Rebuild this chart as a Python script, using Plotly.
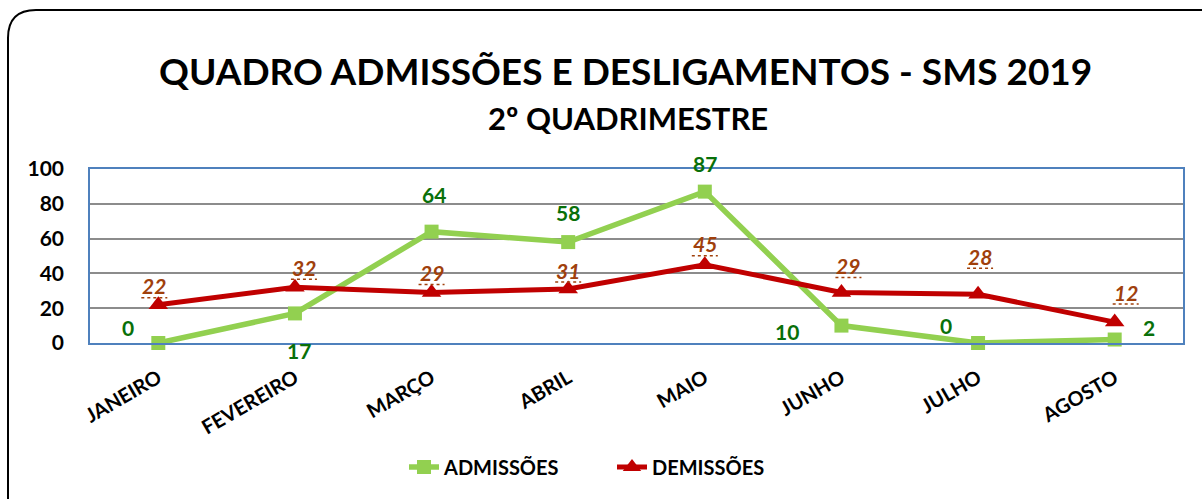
import plotly.graph_objects as go

months = ["JANEIRO", "FEVEREIRO", "MARÇO", "ABRIL", "MAIO", "JUNHO", "JULHO", "AGOSTO"]
admissoes = [0, 17, 64, 58, 87, 10, 0, 2]
demissoes = [22, 32, 29, 31, 45, 29, 28, 12]

# label offsets (pixels) for data labels
adm_shift = [(-30, 16), (4, -37), (2, 37), (0, 30), (0, 28), (-54, -6), (-32, 18), (34, 12)]
dem_shift = [(-4, 19), (9, 20), (0, 20), (0, 19), (0, 21), (7, 27), (2, 38), (11, 30)]

FONT = "Lato"
GREEN = "#92D050"
RED = "#C00000"
LBL_GREEN = "#097009"
LBL_BROWN = "#A0400C"

fig = go.Figure()
fig.add_trace(go.Scatter(
    x=months, y=admissoes, name="ADMISSÕES", mode="lines+markers",
    line=dict(color=GREEN, width=5.5),
    marker=dict(symbol="square", size=14, color=GREEN),
    cliponaxis=False,
))
fig.add_trace(go.Scatter(
    x=months, y=demissoes, name="DEMISSÕES", mode="lines+markers",
    line=dict(color=RED, width=5),
    marker=dict(symbol="triangle-up", size=17, color=RED),
    cliponaxis=False,
))

annotations = []
shapes = []
for m, v, (dx, dy) in zip(months, admissoes, adm_shift):
    annotations.append(dict(x=m, y=v, text=f"<b>{v}</b>", showarrow=False,
                            xshift=dx, yshift=dy, yanchor="middle", xanchor="center",
                            font=dict(family=FONT, size=21, color=LBL_GREEN)))
for m, v, (dx, dy) in zip(months, demissoes, dem_shift):
    annotations.append(dict(x=m, y=v, text=f"<b><i>{v}</i></b>",
                            showarrow=False, xshift=dx, yshift=dy, yanchor="middle", xanchor="center",
                            font=dict(family=FONT, size=21, color=LBL_BROWN)))
    # dotted underline below the label
    shapes.append(dict(type="line", xref="x", yref="y",
                       xsizemode="pixel", ysizemode="pixel",
                       xanchor=m, yanchor=v,
                       x0=dx - 13, x1=dx + 13, y0=dy - 12, y1=dy - 12,
                       line=dict(color=LBL_BROWN, width=1.5, dash="dot")))

annotations.append(dict(xref="paper", yref="paper", x=0.49, y=1.0, yshift=99, yanchor="middle",
                        text="<b>QUADRO ADMISSÕES E DESLIGAMENTOS - SMS 2019</b>",
                        showarrow=False, font=dict(family=FONT, size=37, color="black")))
annotations.append(dict(xref="paper", yref="paper", x=0.492, y=1.0, yshift=51, yanchor="middle",
                        text="<b>2º QUADRIMESTRE</b>",
                        showarrow=False, font=dict(family=FONT, size=31, color="black")))

W, H = 1202, 499
l, r, t, b = 90, 19, 169, 156
pw, ph = W - l - r, H - t - b
def px(x):
    return (x - l) / pw
def py(y):
    return (H - b - y) / ph

fig.update_layout(
    width=W, height=H,
    margin=dict(l=l, r=r, t=t, b=b, autoexpand=False),
    paper_bgcolor="white", plot_bgcolor="white",
    font=dict(family=FONT, color="black"),
    showlegend=True,
    legend=dict(orientation="h", x=px(404), xanchor="left", y=py(467), yanchor="middle",
                font=dict(family=FONT, size=20, color="black", weight="bold"),
                entrywidth=163, entrywidthmode="pixels", itemwidth=30),
    annotations=annotations,
)

fig.update_xaxes(
    type="category", range=[-0.5, 7.5],
    tickangle=-30, tickfont=dict(family=FONT, size=20, color="black", weight="bold"),
    showgrid=False, showline=True, linecolor="#4F81BD", linewidth=1.5, mirror=True,
    ticks="", ticklabelstandoff=14,
)
fig.update_yaxes(
    range=[0, 100], dtick=20,
    tickfont=dict(family=FONT, size=21, color="black", weight="bold"),
    showgrid=True, gridcolor="#8C8C8C", gridwidth=1.5,
    showline=True, linecolor="#4F81BD", linewidth=1.5, mirror=True,
    zeroline=False, ticks="", ticklabelstandoff=20,
)

# rounded outer frame (pixel-based path in paper coords)
x0, y0, x1, y1, rad = 8, 10, 1230, 530, 28
path = (f"M {px(x0)} {py(y0 + rad)} "
        f"Q {px(x0)} {py(y0)} {px(x0 + rad)} {py(y0)} "
        f"L {px(x1)} {py(y0)} L {px(x1)} {py(y1)} L {px(x0)} {py(y1)} Z")
shapes.append(dict(type="path", xref="paper", yref="paper", path=path,
                   line=dict(color="black", width=2), layer="below"))
fig.layout.shapes = shapes

fig.write_html("out.html", config={"displayModeBar": False},
               post_script="document.body.style.margin='0';")
